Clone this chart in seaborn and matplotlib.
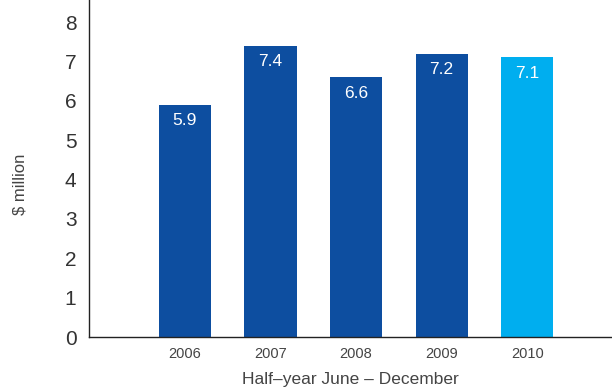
import matplotlib
matplotlib.use("Agg")
import matplotlib.pyplot as plt
import seaborn as sns
import pandas as pd

years = ["2006", "2007", "2008", "2009", "2010"]
values = [5.9, 7.4, 6.6, 7.2, 7.1]
bar_colors = ["#0d4ea0", "#0d4ea0", "#0d4ea0", "#0d4ea0", "#00aeef"]
y_ticks = [0, 1, 2, 3, 4, 5, 6, 7, 8]

sns.set_theme(style="white")
plt.rcParams["font.family"] = ["Liberation Sans", "DejaVu Sans"]

df = pd.DataFrame({"year": years, "value": values})

fig = plt.figure(figsize=(6.12, 3.92), dpi=100)
ax = fig.add_axes([0.1454, 0.1403, 0.8546, 0.8597])

sns.barplot(data=df, x="year", y="value", hue="year", palette=bar_colors,
            width=0.61, saturation=1, legend=False, linewidth=0,
            edgecolor="none", ax=ax)

for i, v in enumerate(values):
    ax.text(i, v - 0.41, f"{v:.1f}", ha="center", va="center",
            color="white", fontsize=12.5)

ax.set_xlim(-1.12, 4.99)
ax.set_ylim(0, 8.56)
ax.set_yticks(y_ticks)
ax.set_yticklabels([str(t) for t in y_ticks], fontsize=15, color="#333333")
ax.tick_params(axis="y", length=0, pad=9)
ax.tick_params(axis="x", length=0, pad=7, labelsize=10.5, labelcolor="#444444")

for side in ["top", "right"]:
    ax.spines[side].set_visible(False)
for side in ["left", "bottom"]:
    ax.spines[side].set_color("#222222")
    ax.spines[side].set_linewidth(1.0)

ax.set_xlabel("Half\u2013year June \u2013 December", fontsize=12.5, color="#444444", labelpad=8)
ax.set_ylabel("$ million", fontsize=12, color="#444444")
ax.yaxis.set_label_coords(-0.118, 0.452)

fig.savefig("out.png", dpi=100)
